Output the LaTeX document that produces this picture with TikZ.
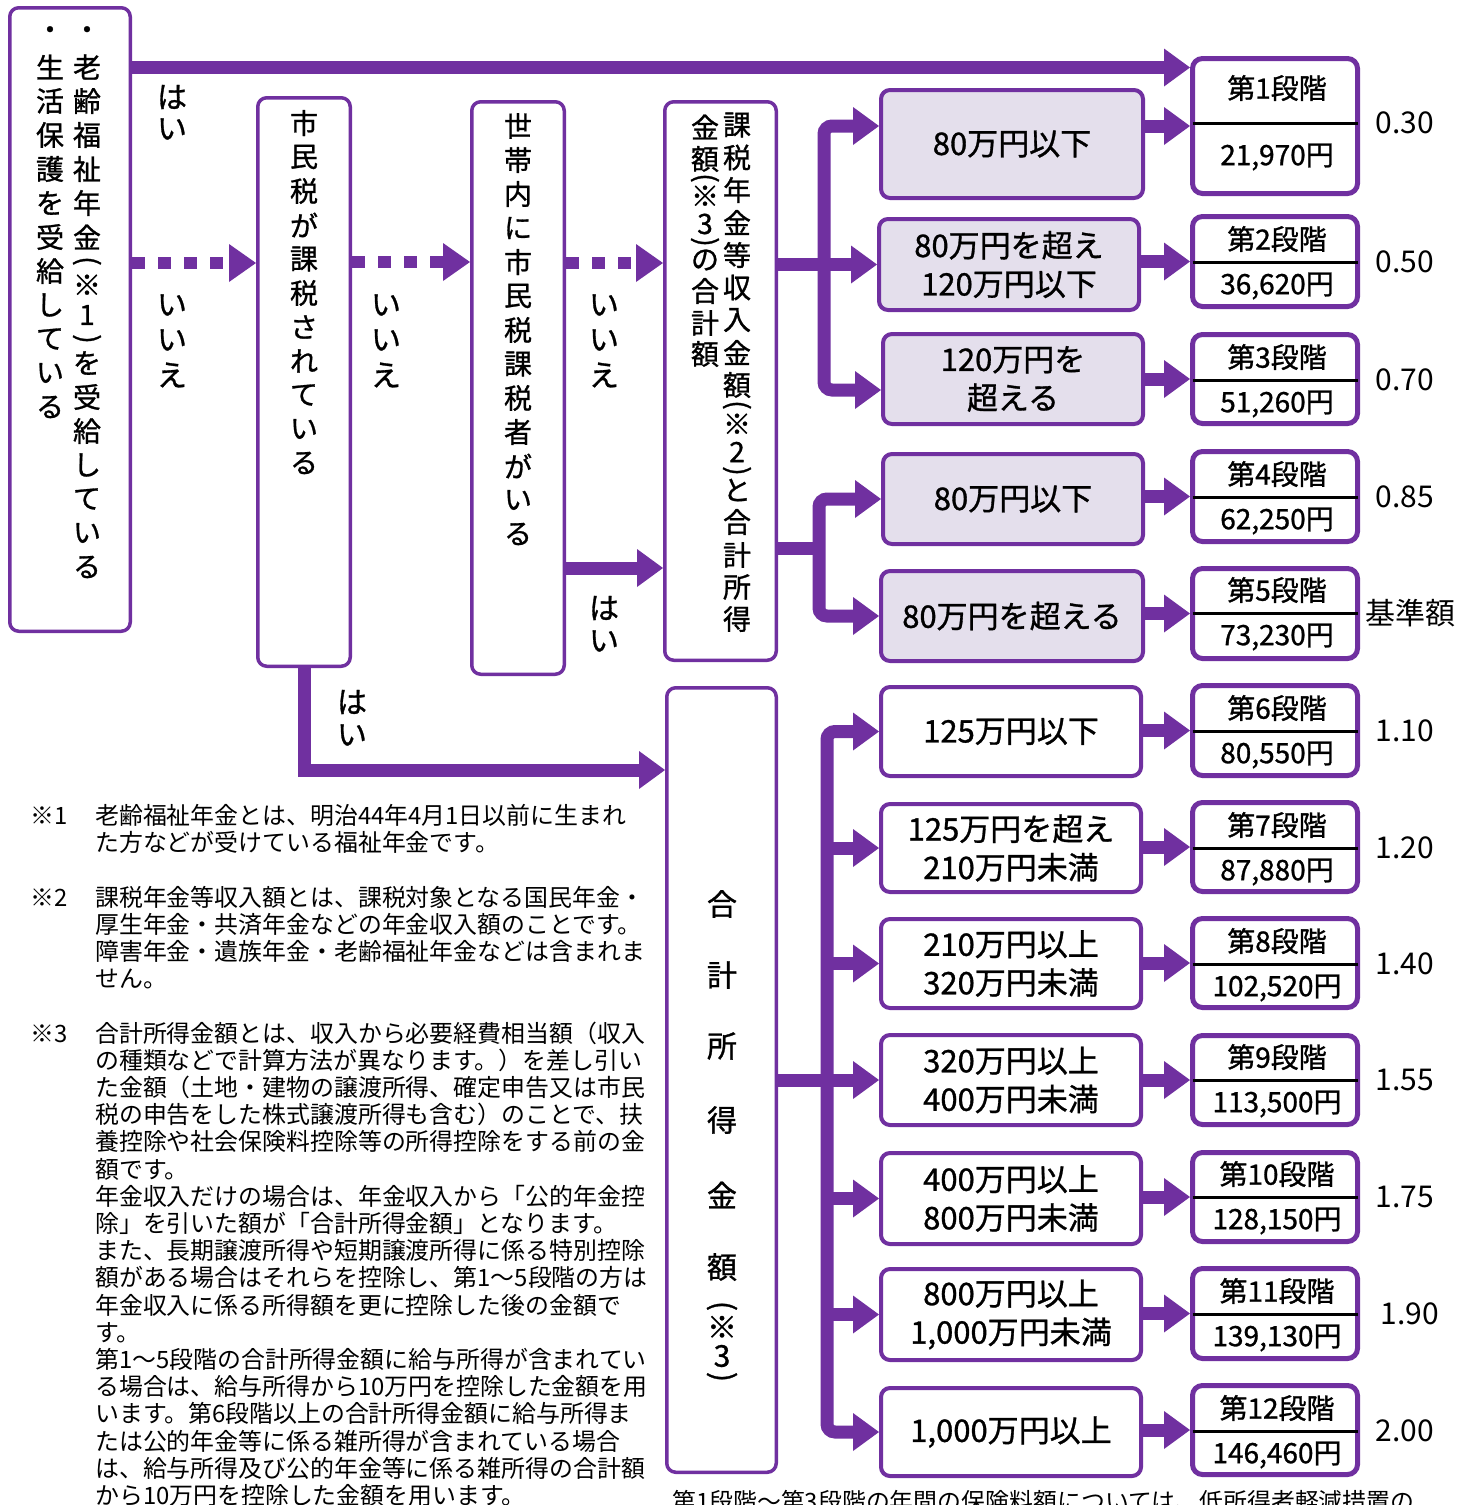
\documentclass[tikz,border=0pt]{standalone}
\usepackage{graphicx}
\usepackage{fontspec}
\setmainfont{Noto Sans CJK JP}
\newfontfamily\bfm[FakeBold=1]{Noto Sans CJK JP}
\usetikzlibrary{arrows.meta,calc,fit}
\definecolor{pur}{HTML}{7030A0}
\definecolor{lav}{HTML}{E4DFEC}
\newcommand{\vcol}[4]{\foreach \ch/\yy [count=\k] in {#4} {\node[#3] (#1-\k) at (#2,\yy) {\ch};}}
\newcommand{\lpar}{\rotatebox{-90}{(}}
\newcommand{\rpar}{\rotatebox{-90}{)}}
\begin{document}
\begin{tikzpicture}[x=1pt,y=-1pt,
  qbox/.style={draw=pur, line width=3.5pt, rounded corners=9pt, inner sep=0pt},
  mbox/.style={draw=pur, line width=4pt, rounded corners=9pt, inner sep=0pt, align=center, font=\bfm\fontsize{31}{38.5}\selectfont},
  sbox/.style={draw=pur, fill=white, line width=5pt, rounded corners=10pt, inner sep=0pt},
  conn/.style={draw=pur, line width=13pt, -{Triangle[length=26pt,width=38pt,line width=0pt]}},
  conn2/.style={draw=pur, line width=13pt, rounded corners=8pt, {Triangle[length=26pt,width=38pt,line width=0pt]}-{Triangle[length=26pt,width=38pt,line width=0pt]}},
  dotconn/.style={draw=pur, line width=12pt, dash pattern=on 13pt off 13pt, -{Triangle[length=27pt,width=38pt,line width=0pt]}},
  bar/.style={draw=pur, line width=13pt},
  vt/.style={font=\bfm\fontsize{28}{28}\selectfont, inner sep=0pt},
  vte/.style={font=\bfm\fontsize{30}{30}\selectfont, inner sep=0pt},
  lab/.style={font=\bfm\fontsize{30}{30}\selectfont, inner sep=0pt},
  stxt/.style={font=\bfm\fontsize{28}{28}\selectfont, inner sep=0pt},
  rtxt/.style={font=\fontsize{30}{30}\selectfont, inner sep=0pt},
  note/.style={font=\fontsize{23.9}{27}\selectfont, inner sep=0pt, anchor=base west},
]
\useasboundingbox (0,0) rectangle (1471,1505);
\clip (0,0) rectangle (1471,1505);
\fill[white] (0,0) rectangle (1471,1505);

% ---- question boxes ----
\node[qbox, fit={(9.75,7.75) (130.25,631.25)}] (A) {};
\node[qbox, fit={(257.75,97.75) (350.25,666.25)}] (B) {};
\node[qbox, fit={(471.75,101.75) (564.25,674.25)}] (C) {};
\node[qbox, fit={(664.75,101.75) (776.25,660.25)}] (D) {};
\node[qbox, fit={(666.75,687.75) (776.25,1472.25)}] (E) {};

\vcol{a1}{87}{vt}{・/33,老/67,齢/101,福/135,祉/169,年/203,金/237,\lpar/261,※/285,1/315,\rpar/339,を/363,受/397,給/431,し/465,て/499,い/533,る/567}
\vcol{a2}{50}{vt}{・/33,生/67,活/101,保/135,護/169,を/203,受/237,給/271,し/305,て/339,い/373,る/407}
\vcol{b1}{304}{vt}{市/123,民/157,税/191,が/225,課/259,税/293,さ/327,れ/361,て/395,い/429,る/463}
\vcol{c1c}{518}{vt}{世/126,帯/160,内/194,に/228,市/262,民/296,税/330,課/364,税/398,者/432,が/466,い/500,る/534}
\vcol{d1c}{737}{vt}{課/125,税/157.5,年/190,金/222.5,等/255,収/287.5,入/320,金/352.5,額/385,\lpar/405,※/424,2/452,\rpar/471,と/490,合/522,計/555,所/587,得/619}
\vcol{d2c}{705}{vt}{金/127,額/159,\lpar/178,※/196,3/224,\rpar/242,の/260,合/291,計/323,額/354}
\vcol{ec}{722}{vte}{合/904,計/975,所/1046,得/1120,金/1195,額/1267,\lpar/1306,※/1327,3/1356,\rpar/1377}

% ---- yes / no labels ----
\vcol{h1}{172}{lab}{は/97,い/129}
\vcol{n1}{172}{lab}{い/305,い/340,え/375}
\vcol{n2}{386}{lab}{い/305,い/340,え/375}
\vcol{n3}{604}{lab}{い/305,い/340,え/375}
\vcol{h2}{604}{lab}{は/608,い/641}
\vcol{h3}{352}{lab}{は/702,い/735}

% ---- income range boxes ----
\node[mbox, fill=lav, minimum width=262pt, minimum height=108pt] (m1) at (1012,144) {80万円以下};
\node[mbox, fill=lav, minimum width=260pt, minimum height=91pt] (m2) at (1009,264.5) {80万円を超え\\120万円以下};
\node[mbox, fill=lav, minimum width=260pt, minimum height=90pt] (m3) at (1013,379) {120万円を\\超える};
\node[mbox, fill=lav, minimum width=260pt, minimum height=90pt] (m4) at (1013,499) {80万円以下};
\node[mbox, fill=lav, minimum width=262pt, minimum height=90pt] (m5) at (1012,616) {80万円を超える};
\node[mbox, minimum width=260pt, minimum height=89pt] (m6) at (1011,731.5) {125万円以下};
\node[mbox, minimum width=260pt, minimum height=88pt] (m7) at (1011,848) {125万円を超え\\210万円未満};
\node[mbox, minimum width=260pt, minimum height=89pt] (m8) at (1011,963.5) {210万円以上\\320万円未満};
\node[mbox, minimum width=260pt, minimum height=90pt] (m9) at (1011,1080) {320万円以上\\400万円未満};
\node[mbox, minimum width=260pt, minimum height=91pt] (m10) at (1011,1198.5) {400万円以上\\800万円未満};
\node[mbox, minimum width=260pt, minimum height=91pt] (m11) at (1011,1314.5) {800万円以上\\1,000万円未満};
\node[mbox, minimum width=260pt, minimum height=88pt] (m12) at (1011,1432) {1,000万円以上};

% ---- stage boxes ----
\node[sbox, fit={(1192.5,58.5) (1357.5,193.5)}] (s1) {};
\draw[black, line width=3pt, shorten <=2.5pt, shorten >=2.5pt] (s1.west |- 0,123) -- (s1.east |- 0,123);
\node[stxt] (s1t) at (1277,88) {第1段階};
\node[stxt] (s1b) at (1277,157) {21,970円};
\node[rtxt] (s1r) at (1405,123) {0.30};
\foreach \n/\ya/\yb/\yd/\ta/\tb/\r/\rx in {%
 s2/214/309/262/第2段階/{36,620円}/0.50/1405,%
 s3/332/426/380/第3段階/{51,260円}/0.70/1405,%
 s4/449/544/497/第4段階/{62,250円}/0.85/1405,%
 s5/566/661/613/第5段階/{73,230円}/基準額/1410,%
 s6/683/778/731/第6段階/{80,550円}/1.10/1405,%
 s7/800/894/848/第7段階/{87,880円}/1.20/1405,%
 s8/916/1010/964/第8段階/{102,520円}/1.40/1405,%
 s9/1033/1127/1080/第9段階/{113,500円}/1.55/1405,%
 s10/1150/1244/1197/第10段階/{128,150円}/1.75/1405,%
 s11/1266/1361/1314/第11段階/{139,130円}/1.90/1410,%
 s12/1383/1477/1431/第12段階/{146,460円}/2.00/1405}
{
 \node[sbox, fit={(1192.5,\ya+2.5) (1357.5,\yb-2.5)}] (\n) {};
 \draw[black, line width=3pt, shorten <=2.5pt, shorten >=2.5pt] (\n.west |- 0,\yd) -- (\n.east |- 0,\yd);
 \node[stxt] (\n t) at (1277,\yd-23) {\ta};
 \node[stxt] (\n b) at (1277,\yd+24) {\tb};
 \node[rtxt] (\n r) at (\rx,\yd) {\r};
}

% ---- connectors ----
\coordinate (s1in) at ($(s1.north west)+(0,11.5)$);
\draw[conn] (A.east |- s1in) -- (s1in);
\coordinate (d1) at (0,263);
\coordinate (d2) at (0,262);
\coordinate (d3) at (0,263);
\draw[dotconn] (A.east |- d1) -- (B.west |- d1);
\draw[dotconn] (B.east |- d2) -- (C.west |- d2);
\draw[dotconn] (C.east |- d3) -- (D.west |- d3);
\coordinate (c1) at ($(C.south east)+(0,-108)$);
\draw[conn] (c1) -- (D.west |- c1);
\coordinate (e1) at ($(E.north west)+(0,84)$);
\draw[conn] (B.south) |- (e1);

% upper branch
\coordinate (t1) at (824,265);
\coordinate (m3a) at ($(m3.west)+(0,11)$);
\draw[conn] (D.east |- m2.west) -- (m2.west);
\draw[conn2] (m1.west |- s1.center) -| (t1) |- (m3a);
% lower branch
\coordinate (t2) at (819,548);
\draw[bar] (D.east |- t2) -- (t2);
\draw[conn2] (m4.west) -| (t2) |- (m5.west);
% income branch
\coordinate (t3) at (827,1080);
\draw[conn] (E.east |- m9.west) -- (m9.west);
\draw[conn2] (m6.west) -| (t3) |- (m12.west);
\foreach \i in {7,8,10,11} {\draw[conn] (t3 |- m\i.west) -- (m\i.west);}
% to stages
\foreach \i in {1,...,12} {\draw[conn] (m\i.east |- s\i.center) -- (s\i.west);}

% ---- notes ----
\node[note] (n1a) at (30,824) {※1};
\node[note] (n1b) at (95,824) {老齢福祉年金とは、明治44年4月1日以前に生まれ};
\node[note] (n1c) at (95,851) {た方などが受けている福祉年金です。};
\node[note] (n2a) at (30,906) {※2};
\node[note] (n2b) at (95,906) {課税年金等収入額とは、課税対象となる国民年金・};
\node[note] (n2c) at (95,933) {厚生年金・共済年金などの年金収入額のことです。};
\node[note] (n2d) at (95,960) {障害年金・遺族年金・老齢福祉年金などは含まれま};
\node[note] (n2e) at (95,987) {せん。};
\node[note] (n3a) at (30,1042) {※3};
\node[note] (n3b) at (95,1042) {合計所得金額とは、収入から必要経費相当額（収入};
\node[note] (n3c) at (95,1069.2) {の種類などで計算方法が異なります。）を差し引い};
\node[note] (n3d) at (95,1096.4) {た金額（土地・建物の譲渡所得、確定申告又は市民};
\node[note] (n3e) at (95,1123.6) {税の申告をした株式譲渡所得も含む）のことで、扶};
\node[note] (n3f) at (95,1150.8) {養控除や社会保険料控除等の所得控除をする前の金};
\node[note] (n3g) at (95,1178) {額です。};
\node[note] (n3h) at (95,1205.2) {年金収入だけの場合は、年金収入から「公的年金控};
\node[note] (n3i) at (95,1232.4) {除」を引いた額が「合計所得金額」となります。};
\node[note] (n3j) at (95,1259.6) {また、長期譲渡所得や短期譲渡所得に係る特別控除};
\node[note] (n3k) at (95,1286.8) {額がある場合はそれらを控除し、第1～5段階の方は};
\node[note] (n3l) at (95,1314) {年金収入に係る所得額を更に控除した後の金額で};
\node[note] (n3m) at (95,1341.2) {す。};
\node[note] (n3n) at (95,1368.4) {第1～5段階の合計所得金額に給与所得が含まれてい};
\node[note] (n3o) at (95,1395.6) {る場合は、給与所得から10万円を控除した金額を用};
\node[note] (n3p) at (95,1422.8) {います。第6段階以上の合計所得金額に給与所得ま};
\node[note] (n3q) at (95,1450) {たは公的年金等に係る雑所得が含まれている場合};
\node[note] (n3r) at (95,1477.2) {は、給与所得及び公的年金等に係る雑所得の合計額};
\node[note] (n3s) at (95,1504.4) {から10万円を控除した金額を用います。};
\node[note] (bot) at (672,1510) {第1段階～第3段階の年間の保険料額については、低所得者軽減措置の};
\end{tikzpicture}
\end{document}
